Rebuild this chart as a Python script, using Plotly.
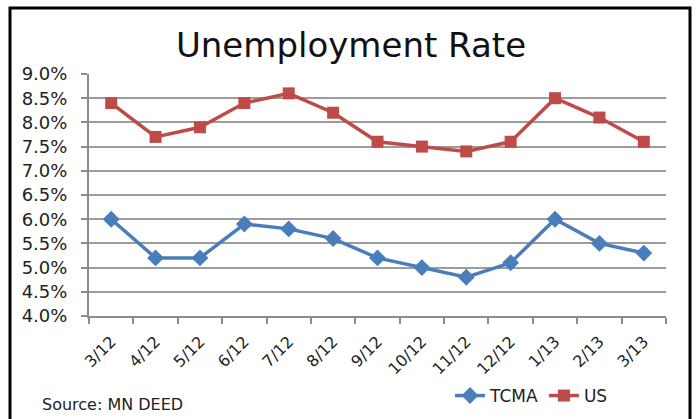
import plotly.graph_objects as go

months = ["3/12", "4/12", "5/12", "6/12", "7/12", "8/12", "9/12", "10/12", "11/12", "12/12", "1/13", "2/13", "3/13"]
tcma = [6.0, 5.2, 5.2, 5.9, 5.8, 5.6, 5.2, 5.0, 4.8, 5.1, 6.0, 5.5, 5.3]
us = [8.4, 7.7, 7.9, 8.4, 8.6, 8.2, 7.6, 7.5, 7.4, 7.6, 8.5, 8.1, 7.6]

BLUE = "#4A7EBB"
RED = "#BE4B48"
FONT = "DejaVu Sans, Verdana, sans-serif"

fig = go.Figure()
fig.add_trace(go.Scatter(x=months, y=[v / 100 for v in tcma], name="TCMA", mode="lines+markers",
                         line=dict(color=BLUE, width=3.5),
                         marker=dict(symbol="diamond", size=13, color=BLUE)))
fig.add_trace(go.Scatter(x=months, y=[v / 100 for v in us], name="US", mode="lines+markers",
                         line=dict(color=RED, width=3.5),
                         marker=dict(symbol="square", size=12, color=RED)))

L, R, T, B = 89, 30, 74, 103
W, H = 696, 419
pw, ph = W - L - R, H - T - B

def px(x):
    return (x - L) / pw

def py(y):
    return (H - B - y) / ph

fig.update_layout(
    width=W, height=H,
    margin=dict(l=L, r=R, t=T, b=B, autoexpand=False),
    paper_bgcolor="white", plot_bgcolor="white",
    font=dict(family=FONT, color="#222222"),
    title=dict(text="Unemployment Rate", x=px(351), xref="paper", xanchor="center",
               y=1 - 45 / H, yanchor="middle",
               font=dict(size=34, color="#111111", family=FONT)),
    showlegend=True,
    legend=dict(orientation="h", x=px(450), y=py(396), xanchor="left", yanchor="middle",
                font=dict(size=17, color="#222222", family=FONT), bgcolor="rgba(0,0,0,0)",
                tracegroupgap=0),
    xaxis=dict(type="category", tickangle=-45, tickfont=dict(size=16, color="#222222", family=FONT),
               showgrid=False, showline=True, linecolor="#8C8C8C", linewidth=2,
               ticks="outside", tickson="boundaries", ticklen=6, tickcolor="#8C8C8C", tickwidth=2,
               ticklabelstandoff=8, automargin=False,
               range=[-0.5, 12.5]),
    yaxis=dict(range=[0.04, 0.09], dtick=0.005, tickformat=".1%",
               tickfont=dict(size=18, color="#222222", family=FONT),
               showgrid=True, gridcolor="#9C9C9C", gridwidth=1.5,
               showline=True, linecolor="#8C8C8C", linewidth=2,
               ticks="outside", ticklen=6, tickcolor="#8C8C8C", tickwidth=2,
               ticklabelstandoff=10, automargin=False,
               zeroline=False),
)

fig.add_shape(type="rect", xref="paper", yref="paper",
              x0=px(10), x1=px(690), y0=py(440), y1=py(8),
              line=dict(color="black", width=3), fillcolor="rgba(0,0,0,0)", layer="below")

fig.add_annotation(text="Source: MN DEED", xref="paper", yref="paper",
                   x=px(40), y=py(404), xanchor="left", yanchor="middle",
                   showarrow=False, font=dict(size=16, color="#222222", family=FONT))

fig.write_html("out.html")
